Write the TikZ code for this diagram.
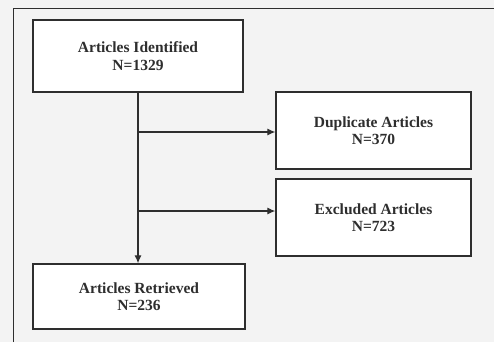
\documentclass[tikz,border=0pt]{standalone}
\usepackage{fontspec}
\setmainfont{Liberation Serif}
\usetikzlibrary{arrows.meta}
\definecolor{ink}{HTML}{2E2E2E}
\definecolor{paper}{HTML}{F3F3F3}
\tikzset{
  box/.style={draw=ink, line width=1.3pt, fill=white, align=center, font=\bfseries\fontsize{15.5}{17.5}\selectfont, text=ink, inner sep=0pt},
  link/.style={draw=ink, line width=1.2pt},
  arr/.style={link, -{Latex[length=8pt,width=7pt]}}
}
\begin{document}
\begin{tikzpicture}[x=1pt,y=-1pt]
\fill[paper] (0,0) rectangle (494,342);
\useasboundingbox (0,0) rectangle (494,342);
\draw[draw=ink, line width=1pt] (13,342) -- (13,9) -- (494,9);
\node[box, minimum width=210pt, minimum height=72pt] (ident) at (138,56) {Articles Identified\\N=1329};
\node[box, minimum width=195pt, minimum height=77pt] (dup) at (373.5,130.5) {Duplicate Articles\\N=370};
\node[box, minimum width=195pt, minimum height=77pt] (excl) at (373.5,217.5) {Excluded Articles\\N=723};
\node[box, minimum width=212pt, minimum height=65pt] (retr) at (139,296.5) {Articles Retrieved\\N=236};
\coordinate (j1) at (138,132);
\coordinate (j2) at (138,211);
\draw[arr] (ident.south -| j1) -- (j1 |- retr.north);
\draw[arr] (j1) -- (j1 -| dup.west);
\draw[arr] (j2) -- (j2 -| excl.west);
\end{tikzpicture}
\end{document}
